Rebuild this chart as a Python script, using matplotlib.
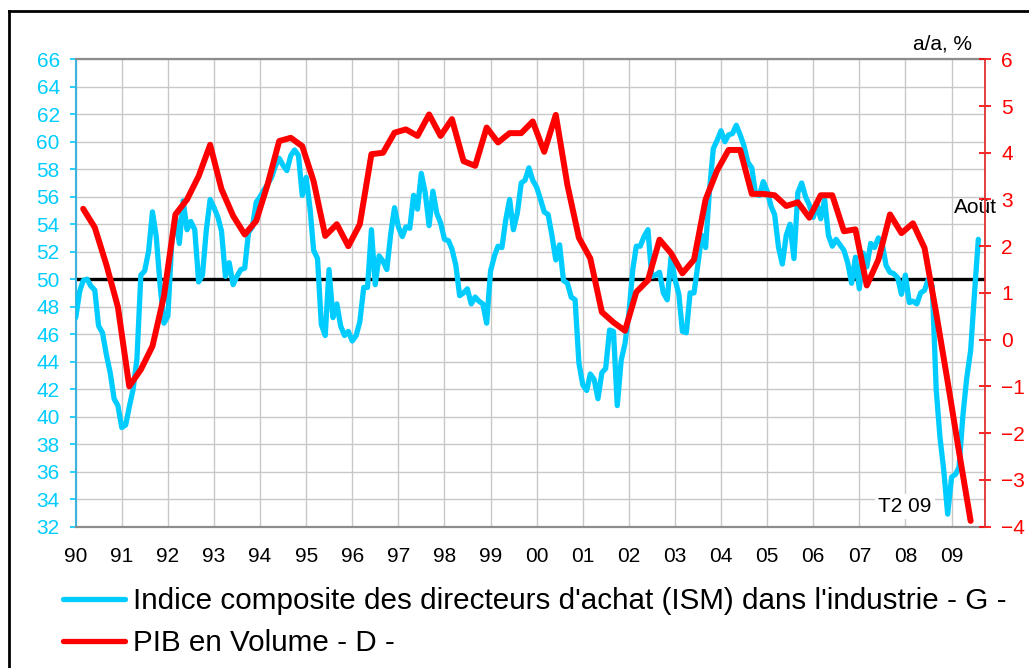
import pandas as pd
import matplotlib
matplotlib.use('Agg')
import matplotlib.pyplot as plt
import matplotlib.dates as mdates
from matplotlib.lines import Line2D

plt.rcParams['font.family'] = ['Liberation Sans', 'DejaVu Sans']

# ISM manufacturing, monthly, Jan 1990 -> Aug 2009 (left axis)
ism = [
    47.2, 49.1, 49.9, 50.0, 49.5, 49.2, 46.6, 46.1, 44.5, 43.2, 41.3, 40.8,  # 1990
    39.2, 39.4, 40.7, 42.0, 44.2, 50.3, 50.6, 52.0, 54.9, 53.1, 49.5, 46.8,  # 1991
    47.3, 52.7, 54.6, 52.6, 55.7, 53.6, 54.2, 53.6, 49.8, 50.3, 53.6, 55.8,  # 1992
    55.2, 54.5, 53.5, 50.2, 51.2, 49.6, 50.2, 50.7, 50.8, 53.4, 53.8, 55.6,  # 1993
    56.0, 56.5, 56.9, 57.4, 58.2, 58.8, 58.3, 57.9, 59.0, 59.4, 59.0, 56.1,  # 1994
    57.4, 55.1, 52.1, 51.5, 46.7, 45.9, 50.7, 47.2, 48.2, 46.6, 45.9, 46.2,  # 1995
    45.5, 45.9, 46.9, 49.4, 49.4, 53.6, 49.6, 51.7, 51.3, 50.7, 53.3, 55.2,  # 1996
    53.8, 53.1, 53.8, 53.7, 56.1, 55.1, 57.7, 56.3, 53.9, 56.4, 54.8, 54.1,  # 1997
    52.9, 52.8, 52.2, 51.0, 48.8, 49.0, 49.3, 48.2, 48.7, 48.4, 48.2, 46.8,  # 1998
    50.6, 51.7, 52.4, 52.3, 54.3, 55.8, 53.6, 54.8, 57.0, 57.2, 58.1, 57.2,  # 1999
    56.7, 55.8, 54.9, 54.7, 53.2, 51.4, 52.5, 49.9, 49.7, 48.7, 48.5, 43.9,  # 2000
    42.3, 41.9, 43.1, 42.7, 41.3, 43.2, 43.5, 46.3, 46.2, 40.8, 44.1, 45.3,  # 2001
    47.5, 50.7, 52.4, 52.4, 53.1, 53.6, 50.2, 50.3, 50.5, 49.0, 48.5, 51.6,  # 2002
    50.0, 48.9, 46.2, 46.1, 49.0, 49.0, 51.0, 53.2, 52.3, 56.4, 59.5, 60.1,  # 2003
    60.8, 60.0, 60.5, 60.6, 61.2, 60.5, 59.7, 58.5, 58.1, 56.2, 56.1, 57.1,  # 2004
    56.4, 55.3, 54.7, 52.3, 51.1, 53.2, 54.0, 51.5, 56.3, 57.0, 56.0, 55.4,  # 2005
    54.5, 55.4, 54.4, 55.8, 53.2, 52.4, 52.9, 52.5, 52.1, 51.2, 49.7, 51.6,  # 2006
    49.3, 51.9, 50.9, 52.6, 52.3, 53.0, 52.6, 51.0, 50.5, 50.4, 50.1, 48.9,  # 2007
    50.3, 48.3, 48.4, 48.2, 49.0, 49.2, 50.0, 49.5, 42.0, 38.5, 36.0, 32.9,  # 2008
    35.6, 35.8, 36.3, 40.1, 42.8, 44.8, 48.9, 52.9,                          # 2009
]

# real GDP, y/y %, quarterly, Q1 1990 -> Q2 2009 (right axis)
pib = [
    2.8, 2.4, 1.6, 0.7,
    -1.0, -0.64, -0.14, 0.93,
    2.68, 3.0, 3.5, 4.17,
    3.22, 2.65, 2.25, 2.54,
    3.32, 4.25, 4.32, 4.14,
    3.39, 2.22, 2.47, 2.0,
    2.47, 3.97, 4.0, 4.43,
    4.5, 4.36, 4.82, 4.36,
    4.72, 3.82, 3.72, 4.54,
    4.22, 4.42, 4.42, 4.67,
    4.02, 4.81, 3.31, 2.18,
    1.74, 0.59, 0.37, 0.19,
    1.02, 1.27, 2.14, 1.85,
    1.42, 1.71, 3.0, 3.62,
    4.06, 4.06, 3.12, 3.12,
    3.09, 2.86, 2.94, 2.61,
    3.09, 3.09, 2.32, 2.36,
    1.16, 1.71, 2.68, 2.28,
    2.49, 1.96, 0.57, -0.9,
    -2.4, -3.88,
]

ism_label = "Indice composite des directeurs d'achat (ISM) dans l'industrie - G -"
pib_label = 'PIB en Volume - D -'
left_ticks = list(range(32, 67, 2))
right_ticks = list(range(-4, 7))

months = pd.date_range('1990-01-01', periods=len(ism), freq='MS')
quarters = pd.date_range('1990-03-01', periods=len(pib), freq='3MS')

CYAN = '#00CCFF'
RED = '#FF0000'

fig = plt.figure(figsize=(10.29, 6.68), dpi=100)
ax = fig.add_axes([0.0736, 0.2118, 0.8839, 0.6994])
ax2 = ax.twinx()

# grid + reference line at 50
ax.set_axisbelow(True)
ax.grid(True, color='#C8C8C8', lw=1.0)
ax.axhline(50, color='black', lw=2.4, zorder=2)

ax.plot(months, ism, color=CYAN, lw=3.8, solid_joinstyle='round',
        solid_capstyle='round', zorder=3)
ax2.plot(quarters, pib, color=RED, lw=4.3, solid_joinstyle='round',
         solid_capstyle='round', zorder=3)

ax.set_xlim(pd.Timestamp('1990-01-01'), pd.Timestamp('2009-09-25'))
ax.set_ylim(32, 66)
ax.set_yticks(left_ticks)
ax2.set_ylim(-4, 6)
ax2.set_yticks(right_ticks)

ax.xaxis.set_major_locator(mdates.YearLocator())
ax.xaxis.set_major_formatter(mdates.DateFormatter('%y'))
ax.tick_params(axis='x', length=0, pad=15, labelsize=15, labelcolor='black')
ax.tick_params(axis='y', colors=CYAN, direction='out', length=4.5, width=1.2,
               labelsize=15, pad=7)
ax2.tick_params(axis='y', colors=RED, direction='inout', length=9, width=1.2,
                labelsize=15, pad=7)

# spines
ax.spines['left'].set_color('#3BB3DD')
ax.spines['left'].set_linewidth(1.5)
for s in ['top', 'bottom']:
    ax.spines[s].set_color('#8C8C8C')
    ax.spines[s].set_linewidth(1.6)
ax.spines['right'].set_visible(False)
for s in ['left', 'top', 'bottom']:
    ax2.spines[s].set_visible(False)
ax2.spines['right'].set_color('#E03030')
ax2.spines['right'].set_linewidth(1.3)

# annotations
fig.text(972 / 1029, 1 - 50 / 668, 'a/a, %', ha='right', va='baseline', fontsize=15)
ax.annotate('Août', xy=(months[-1], ism[-1]), xytext=(-17.6, 18.7),
            textcoords='offset points', ha='left', va='baseline', fontsize=15)
ax2.annotate('T2 09', xy=(quarters[-1], pib[-1]), xytext=(-66.5, 6.3),
             textcoords='offset points', ha='left', va='baseline', fontsize=15,
             bbox=dict(boxstyle='square,pad=0.15', fc='white', ec='none'), zorder=2)

# legend
handles = [Line2D([], [], color=CYAN, lw=3.8, solid_capstyle='round'),
           Line2D([], [], color=RED, lw=3.8, solid_capstyle='round')]
fig.legend(handles, [ism_label, pib_label], loc='upper left',
           bbox_to_anchor=(63 / 1029, 1 - 587 / 668), frameon=False, fontsize=21.3,
           handlelength=2.1, handletextpad=0.25, labelspacing=0.48,
           borderaxespad=0, borderpad=0)

# outer frame (only left and top visible)
fig.add_artist(Line2D([0.0085, 0.0085], [0, 0.984], transform=fig.transFigure,
                      color='black', lw=2))
fig.add_artist(Line2D([0.0085, 1], [0.984, 0.984], transform=fig.transFigure,
                      color='black', lw=2))

fig.savefig('out.png', dpi=100)
